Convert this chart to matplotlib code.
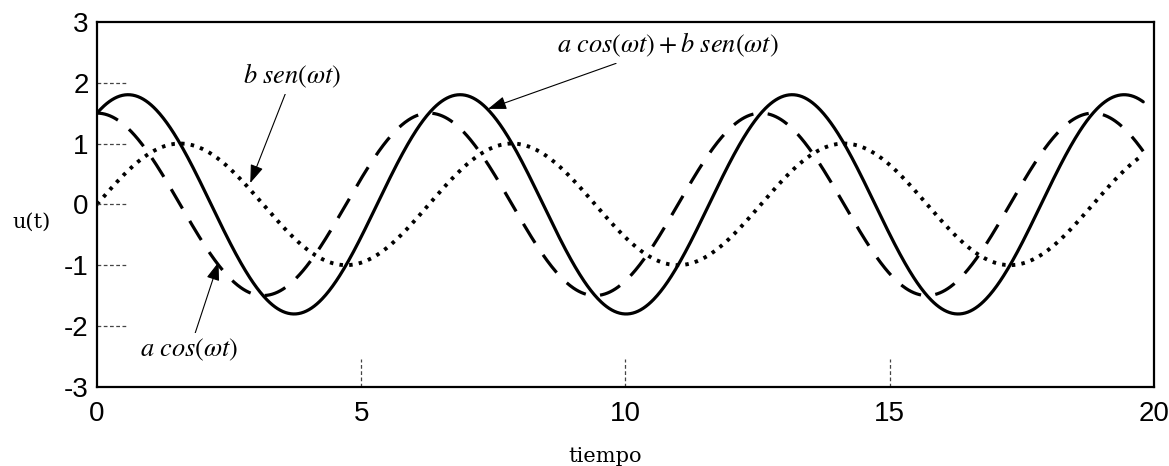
import numpy as np
import matplotlib
matplotlib.use("Agg")
import matplotlib.pyplot as plt

plt.rcParams['mathtext.fontset'] = 'stix'
plt.rcParams['axes.unicode_minus'] = False

# Parameters of the oscillation u(t) = a cos(wt) + b sen(wt)
a = 1.5
b = 1.0
omega = 1.0
t_end = 19.8

x_ticks = [0, 5, 10, 15, 20]
y_ticks = [-3, -2, -1, 0, 1, 2, 3]

t = np.linspace(0, t_end, 1200)
cos_part = a * np.cos(omega * t)
sin_part = b * np.sin(omega * t)
total = cos_part + sin_part

fig = plt.figure(figsize=(11.69, 4.66), dpi=100)
ax = fig.add_axes([0.083, 0.170, 0.904, 0.783])

ax.plot(t, total, color='black', lw=2.3, solid_capstyle='round')
ax.plot(t, cos_part, color='black', lw=2.3, dashes=(7, 4.5))
ax.plot(t, sin_part, color='black', lw=2.8, dashes=(0.9, 1.6),
        dash_capstyle='butt')

ax.set_xlim(0, 20)
ax.set_ylim(-3, 3)

for s in ax.spines.values():
    s.set_linewidth(1.6)

ax.set_xticks(x_ticks)
ax.set_yticks(y_ticks)
ax.tick_params(length=0, labelsize=20)
ax.tick_params(axis='x', pad=10)
ax.tick_params(axis='y', pad=6)
for lab in ax.get_xticklabels() + ax.get_yticklabels():
    lab.set_fontfamily('Liberation Sans')

# short dashed inner tick marks
for yv in [-2, -1, 0, 1, 2]:
    ax.plot([0, 0.55], [yv, yv], color='#444444', lw=0.9,
            ls=(0, (3, 2)), clip_on=False)
for xv in [5, 10, 15]:
    ax.plot([xv, xv], [-3, -2.55], color='#444444', lw=0.9,
            ls=(0, (3, 2)), clip_on=False)

fig.text(0.027, 0.523, 'u(t)', family='DejaVu Serif', fontsize=15,
         ha='center', va='center')
fig.text(0.518, 0.02, 'tiempo', family='DejaVu Serif', fontsize=15,
         ha='center', va='center')

arrow = dict(arrowstyle='-|>,head_length=0.7,head_width=0.25',
             color='black', lw=0.8, mutation_scale=16, shrinkA=0, shrinkB=0)
box = dict(facecolor='white', edgecolor='none', pad=3)

ax.annotate(r'$b\ sen(\omega t)$', xy=(2.9, 0.35), xytext=(3.7, 2.12),
            fontsize=19, ha='center', va='center', bbox=box,
            arrowprops=arrow)
ax.annotate(r'$a\ cos(\omega t) + b\ sen(\omega t)$', xy=(7.4, 1.57),
            xytext=(10.8, 2.62), fontsize=19, ha='center', va='center',
            bbox=box, arrowprops=arrow)
ax.annotate(r'$a\ cos(\omega t)$', xy=(2.3, -0.95), xytext=(1.75, -2.4),
            fontsize=19, ha='center', va='center', bbox=box,
            arrowprops=arrow)

fig.savefig('out.png', dpi=100, facecolor='white')
